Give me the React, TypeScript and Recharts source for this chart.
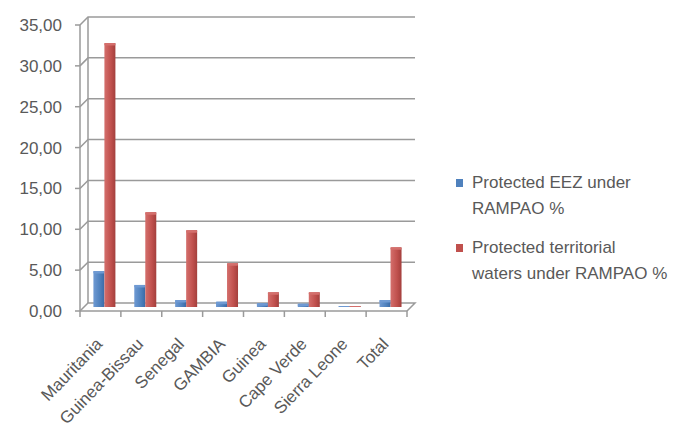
import React from "react";
import { BarChart, Bar, XAxis, YAxis, CartesianGrid, Legend } from "recharts";

const CATEGORIES = ["Mauritania", "Guinea-Bissau", "Senegal", "GAMBIA", "Guinea", "Cape Verde", "Sierra Leone", "Total"];
const EEZ = [4.4, 2.7, 0.85, 0.65, 0.45, 0.4, 0.1, 0.85];
const TERRITORIAL = [32.3, 11.6, 9.4, 5.35, 1.8, 1.8, 0.1, 7.3];
const Y_TICKS = [0, 5, 10, 15, 20, 25, 30, 35];
const SERIES_EEZ = "Protected EEZ under\nRAMPAO %";
const SERIES_TERR = "Protected territorial\nwaters under RAMPAO %";

const data = CATEGORIES.map((c, i) => ({ name: c, eez: EEZ[i], terr: TERRITORIAL[i] }));

const FONT = "'Liberation Sans', Arial, sans-serif";
const TEXT = "#595959";
const GRID = "#9a9a9a";
const DX = 8;
const DY = 8;

const gridLine = (p: any) => {
  const { x1, y1, x2, horizontalPoints, index } = p;
  const pts: number[] = horizontalPoints || [];
  const top = Math.min(...pts);
  const bottom = Math.max(...pts);
  const isBottom = Math.abs(y1 - bottom) < 0.5;
  const isTop = Math.abs(y1 - top) < 0.5;
  let d = `M${x1},${y1} L${x1 + DX},${y1 - DY} L${x2 + DX},${y1 - DY}`;
  if (isBottom) d += ` L${x2},${y1}`;
  return (
    <g key={`gl-${index}`}>
      <path d={d} fill="none" stroke={GRID} strokeWidth={1.5} />
      {isTop && (
        <line x1={x1 + DX} y1={top - DY} x2={x1 + DX} y2={bottom - DY} stroke={GRID} strokeWidth={1.5} />
      )}
    </g>
  );
};

const XTick = (props: any) => {
  const { x, y, payload, index } = props;
  const off = payload.offset || 0;
  const isLast = index === CATEGORIES.length - 1;
  return (
    <g>
      <line x1={x - off} y1={y} x2={x - off} y2={y + 6} stroke={GRID} strokeWidth={1.5} />
      {isLast && <line x1={x + off} y1={y} x2={x + off} y2={y + 6} stroke={GRID} strokeWidth={1.5} />}
      <text
        x={x + 3}
        y={y + 34}
        textAnchor="end"
        transform={`rotate(-46, ${x + 3}, ${y + 34})`}
        fill={TEXT}
        fontSize={17}
        fontFamily={FONT}
      >
        {payload.value}
      </text>
    </g>
  );
};

const Bar3D = (color: string, light: string, dark: string) => (props: any) => {
  const { x, y, width, height } = props;
  if (height == null || width == null) return null;
  const h = Math.max(height, 1);
  const yy = y + height - h;
  const id = `g-${color.replace("#", "")}`;
  return (
    <g transform="translate(4,-4)">
      <defs>
        <linearGradient id={id} x1="0" y1="0" x2="1" y2="0">
          <stop offset="0%" stopColor={light} />
          <stop offset="60%" stopColor={color} />
          <stop offset="100%" stopColor={dark} />
        </linearGradient>
      </defs>
      <rect x={x} y={yy} width={width} height={h} fill={`url(#${id})`} />
      <rect x={x} y={yy} width={width} height={Math.min(2.5, h)} rx={1} fill={light} />
    </g>
  );
};

const LegendContent = (props: any) => {
  const { payload } = props;
  return (
    <div style={{ fontFamily: FONT, fontSize: 17, color: TEXT, lineHeight: "26px" }}>
      {(payload || []).map((e: any, i: number) => (
        <div key={i} style={{ display: "flex", alignItems: "flex-start", marginBottom: 13 }}>
          <div style={{ width: 7, height: 8, background: e.color, marginTop: 9, marginRight: 9, flexShrink: 0 }} />
          <div style={{ whiteSpace: "pre-line" }}>{e.value}</div>
        </div>
      ))}
    </div>
  );
};

export default function App() {
  return (
    <div style={{ width: 682, height: 433, background: "#fff" }}>
      <style>{"body{margin:0;background:#fff}"}</style>
      <BarChart
        width={682}
        height={433}
        data={data}
        margin={{ top: 25, right: 275, left: 0, bottom: 0 }}
        barCategoryGap="23%"
        barGap={0}
      >
        <CartesianGrid vertical={false} horizontal={gridLine} />
        <YAxis
          domain={[0, 35]}
          ticks={Y_TICKS}
          width={80}
          tickSize={5}
          tickMargin={13}
          tickFormatter={(v: number) => v.toFixed(2).replace(".", ",")}
          axisLine={{ stroke: GRID, strokeWidth: 1.5 }}
          tickLine={{ stroke: GRID, strokeWidth: 1.5 }}
          tick={{ fill: TEXT, fontSize: 17, fontFamily: FONT }}
          interval={0}
        />
        <XAxis
          dataKey="name"
          height={122}
          interval={0}
          tickLine={false}
          tickSize={0}
          tickMargin={0}
          axisLine={{ stroke: GRID, strokeWidth: 1.5 }}
          tick={<XTick />}
        />
        <Legend
          layout="vertical"
          align="center"
          verticalAlign="middle"
          content={<LegendContent />}
          wrapperStyle={{ position: "absolute", left: 456, top: 170, width: 226 }}
        />
        <Bar dataKey="eez" name={SERIES_EEZ} fill="#4F81BD" isAnimationActive={false} shape={Bar3D("#4F81BD", "#6f9ad3", "#3a6aa6")} />
        <Bar dataKey="terr" name={SERIES_TERR} fill="#C0504D" isAnimationActive={false} shape={Bar3D("#C0504D", "#d46f6c", "#a33f3c")} />
      </BarChart>
    </div>
  );
}
